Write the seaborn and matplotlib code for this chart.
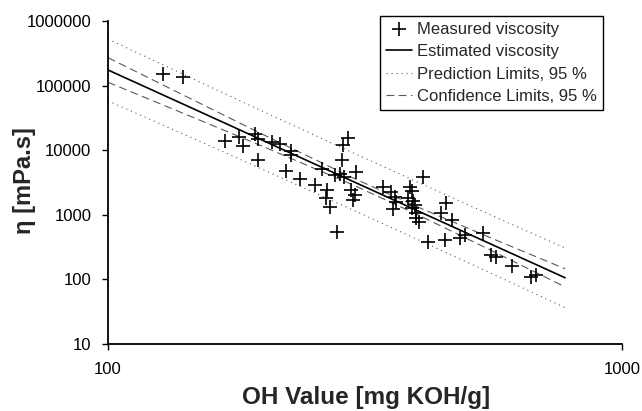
import matplotlib
matplotlib.use("Agg")
import matplotlib.pyplot as plt
import matplotlib.ticker as mticker
import seaborn as sns
import pandas as pd

# Measured viscosity (OH value [mg KOH/g], viscosity [mPa.s])
oh_measured = [128.1, 140.1, 168.9, 179.8, 183.1, 192.8, 196.1, 195.8, 208.2, 216.1,
               227.0, 226.5, 222.0, 236.7, 253.3, 260.3, 267.3, 266.1, 270.4, 279.4,
               293.5, 287.0, 285.3, 276.5, 282.8, 287.9, 303.8, 297.1, 301.8, 300.1,
               343.2, 355.2, 361.6, 363.3, 358.4, 386.8, 389.8, 383.9, 392.6, 395.6,
               391.2, 397.4, 397.4, 401.9, 410.6, 454.6, 444.5, 467.0, 418.8, 452.0,
               483.9, 496.0, 536.5, 556.8, 568.7, 610.1, 664.3, 680.3]
visc_measured = [151200, 137300, 13880, 15730, 11410, 17810, 14910, 7178, 13390, 12470,
                 9718, 8428, 4764, 3608, 2842, 5208, 2378, 1801, 1307, 547.5,
                 15290, 12250, 7178, 4205, 4281, 3916, 4647, 2420, 2025, 1725,
                 2723, 2278, 1886, 1595, 1243, 2694, 2295, 1801, 1635, 1418,
                 1261, 1085, 908, 760, 3888, 1496, 1085, 831, 383, 403,
                 433, 487, 523, 238.6, 226, 164, 107.8, 117]

# Fitted curve and limits
oh_fit = [100, 150, 200, 300, 400, 550, 775]
visc_est = [174600, 40300, 14200, 3270, 1156, 366, 106]
conf_upper = [270400, 54580, 17580, 3707, 1327, 454, 146]
conf_lower = [112700, 29720, 11460, 2891, 1007, 294, 76.6]
pred_upper = [526000, 115900, 40000, 9080, 3214, 1030, 306]
pred_lower = [57940, 14000, 5035, 1180, 416, 130, 36.5]

x_ticks = [100, 1000]
y_ticks = [10, 100, 1000, 10000, 100000, 1000000]

sns.set_style("ticks")
plt.rcParams["font.family"] = ["Liberation Sans", "DejaVu Sans"]

fig = plt.figure(figsize=(6.42, 4.11), dpi=100)
ax = fig.add_axes([108 / 642, 1 - 344 / 411, (622 - 108) / 642, (344 - 21) / 411])

meas = pd.DataFrame({"oh": oh_measured, "visc": visc_measured})
fit = pd.DataFrame({"oh": oh_fit, "est": visc_est, "cu": conf_upper, "cl": conf_lower,
                    "pu": pred_upper, "pl": pred_lower})

sns.scatterplot(data=meas, x="oh", y="visc", marker="+", s=95, color="black",
                linewidth=1.2, ax=ax, label="Measured viscosity", zorder=3)
sns.lineplot(data=fit, x="oh", y="est", color="black", linewidth=1.2, ax=ax,
             label="Estimated viscosity", sort=False, estimator=None)
grey = "#5a5a5a"
sns.lineplot(data=fit, x="oh", y="pu", color=grey, linewidth=0.8, ax=ax,
             label="Prediction Limits, 95 %", sort=False, estimator=None,
             linestyle=(0, (1, 3.5)))
sns.lineplot(data=fit, x="oh", y="pl", color=grey, linewidth=0.8, ax=ax,
             label="_nolegend_", sort=False, estimator=None, linestyle=(0, (1, 3.5)))
sns.lineplot(data=fit, x="oh", y="cu", color=grey, linewidth=0.8, ax=ax,
             label="Confidence Limits, 95 %", sort=False, estimator=None,
             linestyle=(0, (7, 4)))
sns.lineplot(data=fit, x="oh", y="cl", color=grey, linewidth=0.8, ax=ax,
             label="_nolegend_", sort=False, estimator=None, linestyle=(0, (7, 4)))

ax.set_xscale("log")
ax.set_yscale("log")
ax.set_xlim(100, 1000)
ax.set_ylim(10, 1000000)
ax.set_xticks(x_ticks)
ax.set_yticks(y_ticks)
ax.xaxis.set_minor_locator(mticker.NullLocator())
ax.yaxis.set_minor_locator(mticker.NullLocator())
fmt = mticker.FuncFormatter(lambda v, p: f"{int(round(v))}")
ax.xaxis.set_major_formatter(fmt)
ax.yaxis.set_major_formatter(fmt)
ax.tick_params(axis="both", direction="out", length=4, width=1, labelsize=12,
               colors="black")
ax.tick_params(axis="y", pad=8)
ax.tick_params(axis="x", pad=9)
for side in ["top", "right"]:
    ax.spines[side].set_visible(False)
for side in ["left", "bottom"]:
    ax.spines[side].set_linewidth(1.3)
    ax.spines[side].set_color("black")

ax.set_xlabel("OH Value [mg KOH/g]", fontsize=17.5, fontweight="bold")
ax.xaxis.set_label_coords(0.503, (344 - 397) / 323)
ax.xaxis.label.set_verticalalignment("center")
ax.set_ylabel("η [mPa.s]", fontsize=17, fontweight="bold")
ax.yaxis.set_label_coords((36 - 108) / 514, 0.505)

leg = ax.legend(loc="upper right", bbox_to_anchor=(603 / 642, 1 - 16 / 411),
                bbox_transform=fig.transFigure, fontsize=12, frameon=True,
                fancybox=False, edgecolor="black", framealpha=1,
                handlelength=1.6, handletextpad=0.3, labelspacing=0.45,
                borderpad=0.35, borderaxespad=0)
leg.get_frame().set_linewidth(1.0)

fig.savefig("out.png", dpi=100)
